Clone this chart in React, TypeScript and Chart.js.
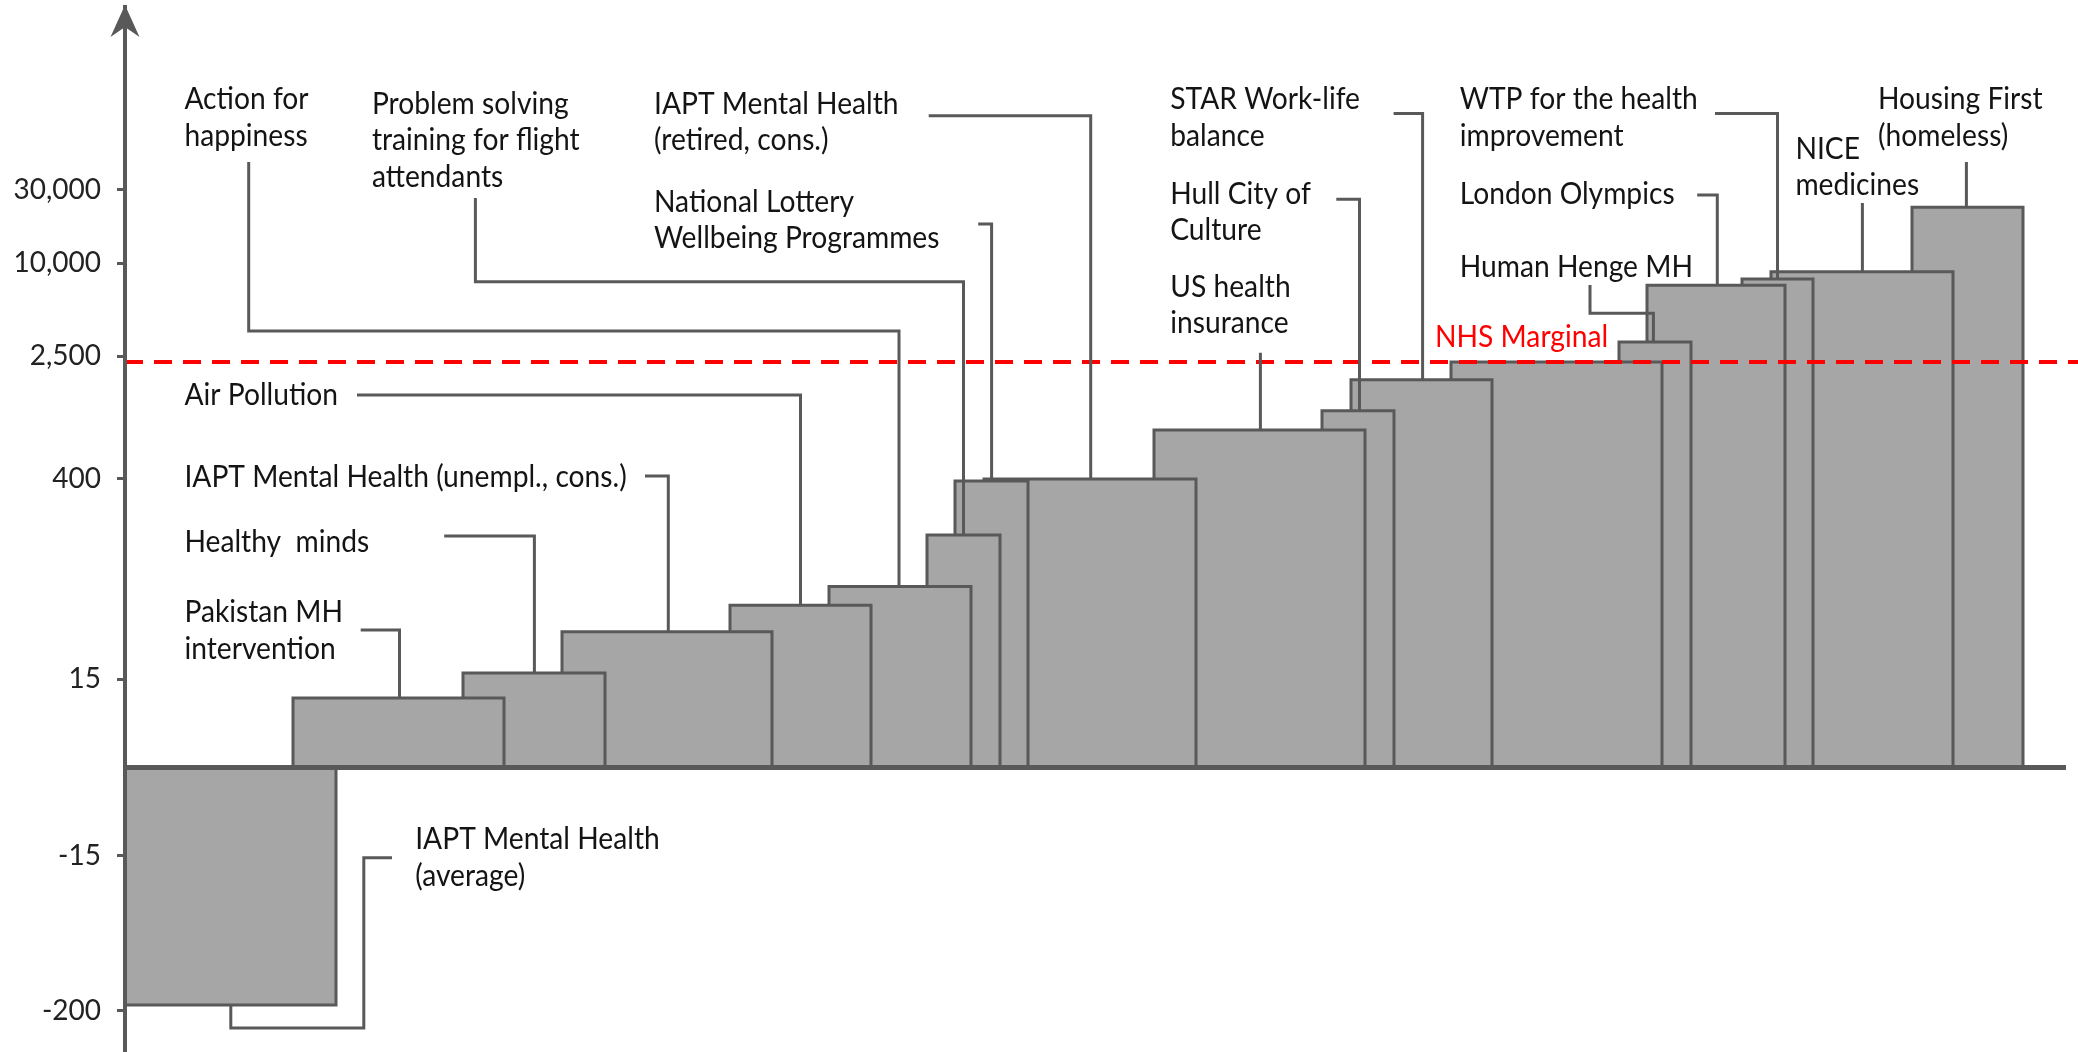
import React, { useEffect, useRef } from 'react';
import { Chart, registerables } from 'chart.js';

Chart.register(...registerables);

// ---------------- Data ----------------
const interventions: string[] = [
  'IAPT Mental Health (average)',
  'Pakistan MH intervention',
  'Healthy minds',
  'IAPT Mental Health (unempl., cons.)',
  'Air Pollution',
  'Action for happiness',
  'Problem solving training for flight attendants',
  'National Lottery Wellbeing Programmes',
  'IAPT Mental Health (retired, cons.)',
  'US health insurance',
  'Hull City of Culture',
  'STAR Work-life balance',
  'NHS Marginal',
  'Human Henge MH',
  'London Olympics',
  'WTP for the health improvement',
  'NICE medicines',
  'Housing First (homeless)',
];
// cost per WELLBY (bar heights)
const costPerWellby: number[] = [-183, 10, 17, 36, 56, 76, 170, 386, 398, 830, 1110, 1760, 2300, 3100, 7200, 7900, 8800, 23000];
// horizontal extent of each bar (arbitrary x units)
const barStart: number[] = [0, 16.8, 33.8, 43.7, 60.5, 70.4, 80.2, 83.0, 85.9, 102.9, 119.7, 122.6, 132.6, 149.4, 152.2, 161.7, 164.6, 178.7];
const barEnd: number[] = [21.1, 37.9, 48.0, 64.7, 74.6, 84.6, 87.5, 90.3, 107.1, 124.0, 126.9, 136.7, 153.7, 156.6, 166.0, 168.8, 182.8, 189.8];
const yTickValues: number[] = [-200, -15, 15, 400, 2500, 10000, 30000];
const yTickLabels: string[] = ['-200', '-15', '15', '400', '2,500', '10,000', '30,000'];
const nhsMarginal = 2300;
const yRange: number[] = [-374, 454000];
const xRange: number[] = [0, 194];

// ---------------- Axis transform (symmetric log) ----------------
const SYMLOG_C = 5.5;
const toScale = (v: number) => Math.sign(v) * Math.log10(1 + Math.abs(v) / SYMLOG_C);

// ---------------- Annotation layout (x: data units, t: axis units) ----------------
type Label = { lines: string[]; x: number; t: number; color?: string };
const labels: Label[] = [
  { lines: ['Action for', 'happiness'], x: 5.94, t: 4.2553 },
  { lines: ['Problem solving', 'training for flight', 'attendants'], x: 24.69, t: 4.2269 },
  { lines: ['IAPT Mental Health', '(retired, cons.)'], x: 52.9, t: 4.2269 },
  { lines: ['National Lottery', 'Wellbeing Programmes'], x: 52.9, t: 3.5915 },
  { lines: ['Air Pollution'], x: 5.94, t: 2.342 },
  { lines: ['IAPT Mental Health (unempl., cons.)'], x: 5.94, t: 1.8138 },
  { lines: ['Healthy  minds'], x: 5.94, t: 1.3937 },
  { lines: ['Pakistan MH', 'intervention'], x: 5.94, t: 0.9386 },
  { lines: ['IAPT Mental Health', '(average)'], x: 29.02, t: -0.5294 },
  { lines: ['STAR Work-life', 'balance'], x: 104.52, t: 4.2553 },
  { lines: ['Hull City of', 'Culture'], x: 104.52, t: 3.6451 },
  { lines: ['US health', 'insurance'], x: 104.52, t: 3.042 },
  { lines: ['WTP for the health', 'improvement'], x: 133.47, t: 4.2553 },
  { lines: ['London Olympics'], x: 133.47, t: 3.6451 },
  { lines: ['Human Henge MH'], x: 133.47, t: 3.1713 },
  { lines: ['NHS Marginal'], x: 131.0, t: 2.7188, color: '#ff0000' },
  { lines: ['NICE', 'medicines'], x: 167.04, t: 3.936 },
  { lines: ['Housing First', '(homeless)'], x: 175.3, t: 4.2553 },
];

type Leader = { bar: number; path: [number, number][] };
const leaders: Leader[] = [
  { bar: 5, path: [[12.37, 3.915], [12.37, 2.822], [77.4, 2.822]] },
  { bar: 6, path: [[35.04, 3.682], [35.04, 3.141], [83.85, 3.141]] },
  { bar: 8, path: [[80.37, 4.214], [96.57, 4.214]] },
  { bar: 7, path: [[85.32, 3.514], [86.66, 3.514]] },
  { bar: 4, path: [[23.2, 2.409], [67.55, 2.409]] },
  { bar: 3, path: [[52.0, 1.885], [54.33, 1.885]] },
  { bar: 2, path: [[31.92, 1.497], [40.94, 1.497]] },
  { bar: 1, path: [[23.57, 0.889], [27.45, 0.889]] },
  { bar: 0, path: [[26.7, -0.5837], [23.88, -0.5837], [23.88, -1.6833], [10.58, -1.6833]] },
  { bar: 9, path: [[113.54, 2.682]] },
  { bar: 10, path: [[121.13, 3.674], [123.45, 3.674]] },
  { bar: 11, path: [[126.86, 4.229], [129.76, 4.229]] },
  { bar: 15, path: [[159.0, 4.229], [165.25, 4.229]] },
  { bar: 14, path: [[157.22, 3.701], [159.23, 3.701]] },
  { bar: 13, path: [[146.5, 3.12], [146.5, 2.937], [152.84, 2.937]] },
  { bar: 16, path: [[173.74, 3.65]] },
  { bar: 17, path: [[184.14, 3.915]] },
];
const nhsLineExtent: number[] = [0, 195.3];

// ---------------- Styles ----------------
const AXIS_COLOR = '#595959';
const BAR_FILL = '#a6a6a6';
const TEXT_COLOR = '#141414';
const RED = '#ff0000';
const FONT = 'Lato, "Open Sans", sans-serif';
const LABEL_SIZE = 31;
const LABEL_SQUASH = 0.91;
const LINE_PITCH = 36.5;

const annotationPlugin = {
  id: 'annotations',
  afterDraw(chart: any) {
    const { ctx, chartArea } = chart;
    const xs = chart.scales.x;
    const ys = chart.scales.y;
    ctx.save();
    // arrow head on the value axis
    const ax = chartArea.left;
    const ay = chartArea.top;
    ctx.fillStyle = AXIS_COLOR;
    ctx.beginPath();
    ctx.moveTo(ax, ay - 2);
    ctx.lineTo(ax + 14.5, ay + 30);
    ctx.lineTo(ax, ay + 20);
    ctx.lineTo(ax - 14.5, ay + 30);
    ctx.closePath();
    ctx.fill();
    // labels
    ctx.font = `${LABEL_SIZE}px ${FONT}`;
    ctx.textBaseline = 'alphabetic';
    ctx.textAlign = 'left';
    for (const lab of labels) {
      const px = xs.getPixelForValue(lab.x);
      const py = ys.getPixelForValue(lab.t);
      ctx.fillStyle = lab.color || TEXT_COLOR;
      lab.lines.forEach((line, i) => {
        ctx.save();
        ctx.translate(px, py + i * LINE_PITCH);
        ctx.scale(LABEL_SQUASH, 1);
        ctx.fillText(line, 0, 0);
        ctx.restore();
      });
    }
    ctx.restore();
  },
};

export default function App() {
  const canvasRef = useRef<HTMLCanvasElement | null>(null);

  useEffect(() => {
    document.body.style.margin = '0';
    const canvas = canvasRef.current;
    if (!canvas) return;

    const leaderSets = leaders.map((l) => {
      const last = l.path[l.path.length - 1];
      return {
        label: 'leader ' + interventions[l.bar],
        data: [...l.path.map(([x, t]) => ({ x, y: t })), { x: last[0], y: toScale(costPerWellby[l.bar]) }],
        borderColor: AXIS_COLOR,
        borderWidth: 3,
        pointRadius: 0,
        fill: false,
        tension: 0,
        borderJoinStyle: 'miter',
      };
    });

    const nhsSet = {
      label: 'NHS Marginal',
      data: [
        { x: nhsLineExtent[0], y: toScale(nhsMarginal) },
        { x: nhsLineExtent[1], y: toScale(nhsMarginal) },
      ],
      borderColor: RED,
      borderWidth: 4,
      borderDash: [18, 11],
      pointRadius: 0,
      fill: false,
      clip: false,
    };

    const barSets = costPerWellby.map((v, i) => ({
      label: interventions[i],
      data: [
        { x: barStart[i], y: 0 },
        { x: barStart[i], y: toScale(v) },
        { x: barEnd[i], y: toScale(v) },
        { x: barEnd[i], y: 0 },
      ],
      backgroundColor: BAR_FILL,
      borderColor: AXIS_COLOR,
      borderWidth: 3,
      fill: 'origin',
      pointRadius: 0,
      tension: 0,
      borderJoinStyle: 'miter',
    }));

    const chart = new Chart(canvas, {
      type: 'line',
      data: { datasets: [...leaderSets, nhsSet, ...barSets] as any },
      options: {
        responsive: false,
        animation: false,
        devicePixelRatio: 1,
        layout: { padding: { top: 7, right: 13, bottom: 0, left: 0 } },
        plugins: {
          legend: { display: false },
          tooltip: { enabled: false },
        },
        scales: {
          x: {
            type: 'linear',
            min: xRange[0],
            max: xRange[1],
            position: { y: 0 } as any,
            ticks: { display: false },
            grid: { display: false },
            border: { display: true, color: AXIS_COLOR, width: 5, z: 1 },
          },
          y: {
            type: 'linear',
            min: toScale(yRange[0]),
            max: toScale(yRange[1]),
            bounds: 'data',
            afterBuildTicks: (axis: any) => {
              axis.ticks = yTickValues.map((v) => ({ value: toScale(v) }));
            },
            afterFit: (axis: any) => {
              axis.width = 125;
              axis.paddingTop = 0;
              axis.paddingBottom = 0;
            },
            ticks: {
              autoSkip: false,
              callback: (_v: any, i: number) => yTickLabels[i],
              font: { family: FONT, size: 28 },
              color: '#222222',
              padding: 16,
            },
            grid: {
              display: true,
              drawOnChartArea: false,
              drawTicks: true,
              tickLength: 8,
              color: AXIS_COLOR,
              lineWidth: 3,
            },
            border: { display: true, color: AXIS_COLOR, width: 4, z: 1 },
          },
        },
      } as any,
      plugins: [annotationPlugin],
    });

    return () => chart.destroy();
  }, []);

  return (
    <div style={{ position: 'absolute', left: 0, top: 0, width: 2078, height: 1052, background: '#fff' }}>
      <canvas ref={canvasRef} width={2078} height={1052} style={{ display: 'block' }} />
    </div>
  );
}
